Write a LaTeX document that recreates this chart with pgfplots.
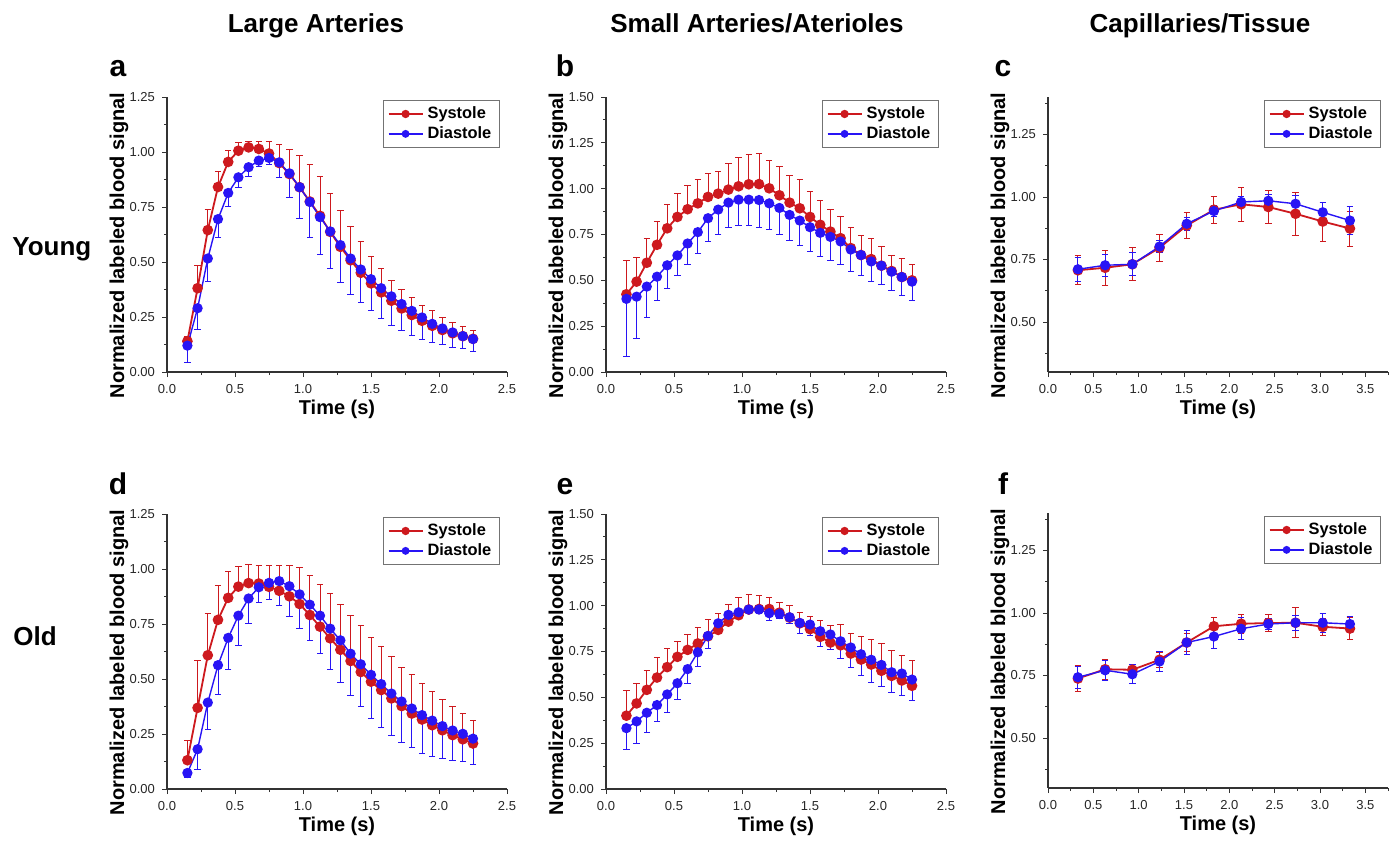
\documentclass[border=0pt]{standalone}
\usepackage{fontspec}
\setmainfont{Liberation Sans}
\usepackage{pgfplots}
\usepackage{pgfplotstable}
\pgfplotsset{compat=1.18}

\definecolor{sysred}{RGB}{205,25,30}
\definecolor{diablue}{RGB}{40,20,245}

% x, systole mean, systole error, diastole mean, diastole error
\pgfplotstableread{
x s se d de
0.150 0.140 0.020 0.120 0.075
0.225 0.381 0.102 0.290 0.098
0.300 0.645 0.093 0.516 0.104
0.375 0.841 0.071 0.695 0.084
0.450 0.955 0.050 0.814 0.063
0.525 1.006 0.035 0.885 0.047
0.600 1.021 0.028 0.931 0.044
0.675 1.014 0.036 0.961 0.026
0.750 0.993 0.056 0.973 0.030
0.825 0.950 0.084 0.953 0.071
0.900 0.900 0.112 0.903 0.110
0.975 0.840 0.142 0.840 0.141
1.050 0.775 0.168 0.773 0.162
1.125 0.710 0.177 0.704 0.171
1.200 0.637 0.173 0.639 0.170
1.275 0.569 0.166 0.577 0.168
1.350 0.508 0.155 0.516 0.162
1.425 0.451 0.141 0.466 0.150
1.500 0.403 0.122 0.422 0.144
1.575 0.362 0.109 0.381 0.139
1.650 0.324 0.092 0.344 0.132
1.725 0.289 0.088 0.309 0.121
1.800 0.259 0.078 0.278 0.113
1.875 0.233 0.070 0.248 0.100
1.950 0.210 0.068 0.219 0.086
2.025 0.191 0.056 0.198 0.075
2.100 0.176 0.051 0.180 0.070
2.175 0.163 0.044 0.163 0.057
2.250 0.151 0.037 0.150 0.055
}\tabA

\pgfplotstableread{
x s se d de
0.150 0.424 0.185 0.399 0.316
0.225 0.493 0.134 0.411 0.230
0.300 0.596 0.130 0.466 0.167
0.375 0.694 0.125 0.520 0.132
0.450 0.784 0.129 0.582 0.124
0.525 0.846 0.130 0.636 0.112
0.600 0.888 0.128 0.701 0.114
0.675 0.920 0.129 0.763 0.114
0.750 0.955 0.130 0.839 0.127
0.825 0.973 0.119 0.886 0.134
0.900 0.995 0.144 0.924 0.134
0.975 1.013 0.157 0.940 0.143
1.050 1.024 0.161 0.940 0.141
1.125 1.025 0.167 0.938 0.152
1.200 1.002 0.154 0.920 0.145
1.275 0.964 0.159 0.895 0.147
1.350 0.924 0.148 0.857 0.141
1.425 0.893 0.156 0.826 0.134
1.500 0.846 0.138 0.790 0.131
1.575 0.803 0.132 0.759 0.127
1.650 0.766 0.123 0.737 0.128
1.725 0.730 0.118 0.712 0.125
1.800 0.676 0.110 0.668 0.119
1.875 0.638 0.107 0.638 0.111
1.950 0.616 0.110 0.603 0.110
2.025 0.580 0.103 0.580 0.105
2.100 0.551 0.087 0.547 0.105
2.175 0.518 0.103 0.518 0.103
2.250 0.500 0.089 0.493 0.102
}\tabB

\pgfplotstableread{
x s se d de
0.33 0.707 0.058 0.711 0.048
0.63 0.717 0.070 0.727 0.044
0.93 0.731 0.066 0.731 0.046
1.23 0.797 0.055 0.802 0.024
1.53 0.886 0.052 0.893 0.025
1.83 0.949 0.054 0.944 0.021
2.13 0.971 0.067 0.980 0.023
2.43 0.960 0.066 0.985 0.025
2.73 0.933 0.085 0.973 0.035
3.03 0.902 0.078 0.939 0.040
3.33 0.874 0.070 0.906 0.055
}\tabC

\pgfplotstableread{
x s se d de
0.150 0.131 0.091 0.073 0.021
0.225 0.369 0.213 0.181 0.091
0.300 0.608 0.191 0.393 0.121
0.375 0.769 0.157 0.563 0.132
0.450 0.869 0.121 0.687 0.145
0.525 0.920 0.090 0.788 0.136
0.600 0.936 0.085 0.866 0.114
0.675 0.934 0.082 0.917 0.071
0.750 0.919 0.096 0.937 0.074
0.825 0.901 0.115 0.945 0.110
0.900 0.876 0.142 0.922 0.137
0.975 0.841 0.164 0.885 0.156
1.050 0.791 0.181 0.838 0.165
1.125 0.738 0.193 0.788 0.174
1.200 0.685 0.202 0.729 0.187
1.275 0.633 0.207 0.676 0.190
1.350 0.582 0.208 0.615 0.190
1.425 0.532 0.209 0.567 0.193
1.500 0.488 0.202 0.519 0.197
1.575 0.450 0.197 0.477 0.196
1.650 0.412 0.189 0.434 0.191
1.725 0.377 0.177 0.398 0.185
1.800 0.343 0.178 0.366 0.178
1.875 0.316 0.165 0.336 0.173
1.950 0.290 0.155 0.311 0.164
2.025 0.267 0.139 0.286 0.148
2.100 0.245 0.129 0.266 0.135
2.175 0.226 0.119 0.251 0.128
2.250 0.207 0.106 0.229 0.117
}\tabD

\pgfplotstableread{
x s se d de
0.150 0.400 0.136 0.332 0.118
0.225 0.467 0.107 0.369 0.118
0.300 0.541 0.107 0.416 0.105
0.375 0.608 0.109 0.458 0.088
0.450 0.665 0.101 0.516 0.098
0.525 0.721 0.085 0.577 0.090
0.600 0.759 0.085 0.654 0.078
0.675 0.794 0.087 0.746 0.080
0.750 0.833 0.089 0.835 0.067
0.825 0.868 0.089 0.904 0.058
0.900 0.913 0.095 0.950 0.046
0.975 0.948 0.094 0.964 0.036
1.050 0.979 0.083 0.979 0.024
1.125 0.982 0.073 0.979 0.024
1.200 0.982 0.062 0.959 0.040
1.275 0.962 0.057 0.955 0.025
1.350 0.935 0.064 0.937 0.033
1.425 0.904 0.060 0.906 0.056
1.500 0.872 0.069 0.897 0.062
1.575 0.830 0.087 0.861 0.084
1.650 0.799 0.094 0.843 0.082
1.725 0.784 0.111 0.806 0.096
1.800 0.739 0.111 0.772 0.107
1.875 0.706 0.126 0.735 0.114
1.950 0.679 0.135 0.705 0.126
2.025 0.645 0.147 0.677 0.118
2.100 0.617 0.138 0.637 0.110
2.175 0.592 0.136 0.630 0.120
2.250 0.563 0.136 0.597 0.116
}\tabE

\pgfplotstableread{
x s se d de
0.33 0.738 0.052 0.743 0.043
0.63 0.775 0.040 0.771 0.040
0.93 0.773 0.015 0.755 0.038
1.23 0.813 0.030 0.806 0.040
1.53 0.882 0.037 0.882 0.048
1.83 0.947 0.035 0.906 0.047
2.13 0.957 0.038 0.937 0.044
2.43 0.960 0.035 0.956 0.023
2.73 0.961 0.060 0.961 0.031
3.03 0.945 0.033 0.961 0.037
3.33 0.938 0.045 0.956 0.032
}\tabF

\pgfplotsset{
  /pgf/number format/assume math mode=true,
  panel/.style={
    scale only axis, width=170pt, height=137.5pt,
    axis lines=left, axis line style={-, line width=0.6pt, black!80},
    tick align=outside, major tick length=2.5pt, minor tick length=1.5pt,
    tick style={black!80, line width=0.5pt},
    tick label style={font=\fontsize{6.5}{7}\selectfont, text=black!85},
    xticklabel style={/pgf/number format/.cd, fixed, fixed zerofill, precision=1},
    yticklabel style={/pgf/number format/.cd, fixed, fixed zerofill, precision=2},
    xlabel={Time (s)}, ylabel={Normalized labeled blood signal},
    label style={font=\bfseries\fontsize{10}{12}\selectfont},
    xlabel style={at={(axis description cs:0.5,-0.135)}, anchor=center},
    ylabel style={at={(axis description cs:-0.141,0.46)}, anchor=center},
    legend style={at={(0.979,0.989)}, anchor=north east, draw=black!55,
      line width=0.5pt, font=\bfseries\fontsize{8.2}{9.5}\selectfont,
      inner xsep=2pt, inner ysep=1pt, row sep=-1.5pt},
    legend cell align=left,
    legend image code/.code={\draw[mark repeat=2,mark phase=2,#1,mark size=1.6pt]
      plot coordinates {(0cm,0cm) (0.3cm,0cm) (0.6cm,0cm)};},
    clip=false,
  },
  early/.style={panel, xmin=0, xmax=2.5, xtick={0,0.5,...,2.5}, minor x tick num=1,
    minor y tick num=1},
  late/.style={panel, xmin=0, xmax=3.75, xtick={0,0.5,...,3.5},
    minor xtick={0.25,0.75,...,3.75}, ymin=0.3, ymax=1.4,
    ytick={0.5,0.75,1,1.25}, minor ytick={0.375,0.625,0.875,1.125,1.375}},
  sys/.style={color=sysred, line width=0.9pt, mark=*, mark size=2.2pt,
    mark options={solid, fill=sysred, draw=sysred},
    error bars/error bar style={line width=0.5pt, draw=sysred},
    error bars/error mark options={rotate=90, mark size=1.6pt, line width=0.5pt, draw=sysred}},
  dia/.style={color=diablue, line width=0.7pt, mark=*, mark size=2.2pt,
    mark options={solid, fill=diablue, draw=diablue},
    error bars/error bar style={line width=0.5pt, draw=diablue},
    error bars/error mark options={rotate=90, mark size=1.6pt, line width=0.5pt, draw=diablue}},
}

\begin{document}
\begin{tikzpicture}
\path[use as bounding box] (0,0) rectangle (698.5pt,-421.5pt);

\begin{axis}[early, at={(83.5pt,-186pt)}, anchor=south west,
  ymin=0, ymax=1.25, ytick={0,0.25,...,1.25}]
\addplot[sys, error bars/.cd, y dir=plus, y explicit] table[x=x, y=s, y error=se] {\tabA};
\addplot[dia, error bars/.cd, y dir=minus, y explicit] table[x=x, y=d, y error=de] {\tabA};
\legend{Systole, Diastole}
\end{axis}

\begin{axis}[early, at={(303pt,-186pt)}, anchor=south west,
  ymin=0, ymax=1.5, ytick={0,0.25,...,1.5}]
\addplot[sys, error bars/.cd, y dir=plus, y explicit] table[x=x, y=s, y error=se] {\tabB};
\addplot[dia, error bars/.cd, y dir=minus, y explicit] table[x=x, y=d, y error=de] {\tabB};
\legend{Systole, Diastole}
\end{axis}

\begin{axis}[late, at={(524pt,-186pt)}, anchor=south west]
\addplot[sys, error bars/.cd, y dir=both, y explicit] table[x=x, y=s, y error=se] {\tabC};
\addplot[dia, error bars/.cd, y dir=both, y explicit] table[x=x, y=d, y error=de] {\tabC};
\legend{Systole, Diastole}
\end{axis}

\begin{axis}[early, at={(83.5pt,-394.5pt)}, anchor=south west,
  ymin=0, ymax=1.25, ytick={0,0.25,...,1.25}]
\addplot[sys, error bars/.cd, y dir=plus, y explicit] table[x=x, y=s, y error=se] {\tabD};
\addplot[dia, error bars/.cd, y dir=minus, y explicit] table[x=x, y=d, y error=de] {\tabD};
\legend{Systole, Diastole}
\end{axis}

\begin{axis}[early, at={(303pt,-394.5pt)}, anchor=south west,
  ymin=0, ymax=1.5, ytick={0,0.25,...,1.5}]
\addplot[sys, error bars/.cd, y dir=plus, y explicit] table[x=x, y=s, y error=se] {\tabE};
\addplot[dia, error bars/.cd, y dir=minus, y explicit] table[x=x, y=d, y error=de] {\tabE};
\legend{Systole, Diastole}
\end{axis}

\begin{axis}[late, at={(524pt,-394pt)}, anchor=south west]
\addplot[sys, error bars/.cd, y dir=both, y explicit] table[x=x, y=s, y error=se] {\tabF};
\addplot[dia, error bars/.cd, y dir=both, y explicit] table[x=x, y=d, y error=de] {\tabF};
\legend{Systole, Diastole}
\end{axis}

% column titles
\begin{scope}[every node/.style={font=\bfseries\fontsize{13}{15}\selectfont, anchor=base, inner sep=0pt}]
\node at (158pt,-16pt) {Large Arteries};
\node at (378.5pt,-16pt) {Small Arteries/Aterioles};
\node at (600pt,-16pt) {Capillaries/Tissue};
\end{scope}
% row labels
\begin{scope}[every node/.style={font=\bfseries\fontsize{13}{15}\selectfont, anchor=base west, inner sep=0pt}]
\node at (6pt,-127.5pt) {Young};
\node at (6.5pt,-322.5pt) {Old};
\end{scope}
% panel letters
\begin{scope}[every node/.style={font=\bfseries\fontsize{15}{18}\selectfont, anchor=base, inner sep=0pt}]
\node at (59pt,-38pt) {a};
\node at (282.5pt,-38pt) {b};
\node at (501.5pt,-38pt) {c};
\node at (59pt,-247pt) {d};
\node at (282.5pt,-247pt) {e};
\node at (501.5pt,-247pt) {f};
\end{scope}
\end{tikzpicture}
\end{document}
